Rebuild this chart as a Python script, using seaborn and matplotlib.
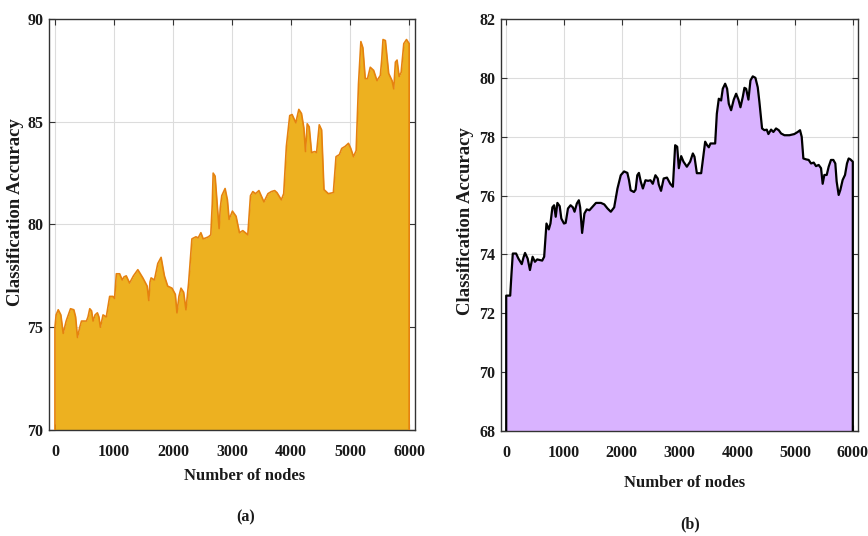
import matplotlib
matplotlib.use("Agg")
import matplotlib.pyplot as plt
import seaborn as sns

# (a) classification accuracy vs. number of nodes
nodes_a = [0, 20, 56, 100, 140, 190, 264, 320, 350, 382, 420, 450, 534, 560, 590, 620,
           646, 680, 719, 745, 770, 815, 870, 927, 983, 1010, 1040, 1096, 1140, 1170,
           1208, 1264, 1330, 1404, 1489, 1562, 1590, 1610, 1629, 1685, 1742, 1798, 1854,
           1910, 1983, 2039, 2067, 2100, 2135, 2180, 2219, 2264, 2320, 2388, 2427, 2472,
           2511, 2560, 2601, 2640, 2665, 2680, 2713, 2753, 2781, 2800, 2826, 2882, 2921,
           2950, 3006, 3068, 3125, 3182, 3267, 3290, 3312, 3352, 3398, 3455, 3540, 3608,
           3665, 3722, 3761, 3835, 3875, 3920, 3977, 4017, 4080, 4131, 4176, 4216, 4244,
           4273, 4307, 4347, 4403, 4432, 4477, 4517, 4557, 4630, 4716, 4761, 4818, 4858,
           4915, 4972, 5011, 5057, 5102, 5142, 5182, 5216, 5256, 5295, 5341, 5398, 5455,
           5511, 5535, 5557, 5597, 5653, 5710, 5739, 5767, 5795, 5830, 5864, 5909, 5955,
           6000]
acc_a = [75.0, 75.6, 75.85, 75.6, 74.7, 75.3, 75.9, 75.85, 75.5, 74.5, 75.0, 75.3, 75.3,
         75.5, 75.9, 75.8, 75.3, 75.6, 75.7, 75.5, 75.0, 75.6, 75.5, 76.5, 76.5, 76.4,
         77.6, 77.6, 77.3, 77.45, 77.5, 77.15, 77.5, 77.8, 77.4, 77.0, 76.3, 77.2, 77.4,
         77.3, 78.1, 78.4, 77.5, 77.0, 76.9, 76.6, 75.7, 76.5, 76.9, 76.7, 75.85, 77.15,
         79.3, 79.4, 79.35, 79.6, 79.3, 79.35, 79.4, 79.5, 81.0, 82.5, 82.35, 80.8, 79.8,
         80.8, 81.4, 81.75, 81.2, 80.25, 80.65, 80.4, 79.6, 79.7, 79.5, 80.5, 81.4, 81.6,
         81.5, 81.65, 81.1, 81.5, 81.6, 81.65, 81.55, 81.2, 81.5, 83.8, 85.3, 85.35,
         84.95, 85.6, 85.4, 84.7, 83.55, 84.9, 84.75, 83.5, 83.55, 83.5, 84.85, 84.6,
         81.7, 81.5, 81.55, 83.3, 83.4, 83.7, 83.8, 83.95, 83.7, 83.3, 83.6, 86.85, 88.9,
         88.6, 87.1, 87.1, 87.65, 87.5, 87.0, 87.25, 88.0, 89.0, 88.95, 87.35, 87.0, 86.6,
         87.9, 88.0, 87.2, 87.4, 88.8, 89.0, 88.8]

# (b) classification accuracy vs. number of nodes
nodes_b = [0, 69, 90, 114, 171, 211, 269, 300, 326, 371, 411, 457, 497, 537, 623, 657,
           697, 737, 766, 800, 829, 857, 886, 926, 954, 1000, 1029, 1069, 1114, 1154,
           1183, 1223, 1257, 1280, 1314, 1354, 1394, 1440, 1486, 1554, 1640, 1697, 1754,
           1811, 1869, 1926, 1983, 2040, 2097, 2126, 2154, 2211, 2240, 2269, 2297, 2331,
           2366, 2411, 2457, 2497, 2537, 2583, 2623, 2640, 2680, 2726, 2783, 2840, 2885,
           2925, 2960, 2988, 3029, 3069, 3127, 3184, 3231, 3259, 3300, 3375, 3403, 3444,
           3478, 3507, 3536, 3617, 3646, 3680, 3720, 3749, 3790, 3824, 3853, 3893, 3939,
           3980, 4020, 4055, 4095, 4124, 4153, 4193, 4228, 4268, 4314, 4354, 4383, 4429,
           4470, 4510, 4539, 4585, 4625, 4671, 4718, 4758, 4816, 4902, 4988, 5046, 5086,
           5115, 5144, 5190, 5236, 5277, 5323, 5363, 5409, 5450, 5478, 5507, 5548, 5582,
           5622, 5663, 5697, 5720, 5755, 5784, 5824, 5865, 5899, 5928, 5957, 6000]
acc_b = [72.6, 72.6, 73.3, 74.03, 74.03, 73.86, 73.67, 73.9, 74.05, 73.86, 73.47, 73.92,
         73.75, 73.83, 73.79, 73.92, 75.05, 74.85, 75.05, 75.6, 75.67, 75.28, 75.75,
         75.64, 75.22, 75.05, 75.07, 75.56, 75.67, 75.6, 75.45, 75.73, 75.84, 75.6, 74.73,
         75.39, 75.53, 75.5, 75.6, 75.75, 75.75, 75.7, 75.56, 75.45, 75.6, 76.24, 76.69,
         76.82, 76.77, 76.52, 76.18, 76.12, 76.2, 76.69, 76.77, 76.46, 76.24, 76.52, 76.5,
         76.52, 76.4, 76.69, 76.58, 76.38, 76.16, 76.58, 76.61, 76.4, 76.3, 77.71, 77.66,
         76.93, 77.34, 77.15, 76.98, 77.15, 77.43, 77.32, 76.76, 76.76, 77.2, 77.83,
         77.71, 77.64, 77.77, 77.77, 78.78, 79.29, 79.23, 79.63, 79.8, 79.63, 79.12, 78.9,
         79.26, 79.46, 79.26, 79.0, 79.35, 79.66, 79.63, 79.26, 79.91, 80.05, 80.0, 79.68,
         79.18, 78.28, 78.22, 78.24, 78.09, 78.24, 78.16, 78.28, 78.22, 78.11, 78.05,
         78.05, 78.09, 78.16, 78.22, 78.0, 77.26, 77.23, 77.21, 77.09, 77.12, 77.0, 77.04,
         76.93, 76.4, 76.7, 76.7, 76.98, 77.21, 77.21, 77.09, 76.48, 76.02, 76.19, 76.53,
         76.7, 77.09, 77.26, 77.23, 77.15]

x_ticks = [0, 1000, 2000, 3000, 4000, 5000, 6000]
yticks_a = [70, 75, 80, 85, 90]
yticks_b = [68, 70, 72, 74, 76, 78, 80, 82]

sns.set_theme(style="ticks")
plt.rcParams["font.family"] = ["Liberation Serif", "DejaVu Serif"]
plt.rcParams["font.weight"] = "bold"

fig = plt.figure(figsize=(8.68, 5.36), dpi=100)
ax_a = fig.add_axes([0.0565, 0.1978, 0.4217, 0.7668])
ax_b = fig.add_axes([0.5772, 0.1959, 0.4113, 0.7687])


def area_panel(ax, xs, ys, base, top, face, edge, lw, yticks, xlim):
    ax.set_axisbelow(True)
    ax.grid(True, color="#dcdcdc", linewidth=0.8)
    ax.fill_between(xs, ys, base, color=face, linewidth=0, zorder=2)
    outline_x = [xs[0]] + list(xs) + [xs[-1]]
    outline_y = [base] + list(ys) + [base]
    sns.lineplot(x=outline_x, y=outline_y, ax=ax, color=edge, linewidth=lw,
                 sort=False, estimator=None, zorder=3)
    ax.set_xlim(*xlim)
    ax.set_ylim(base, top)
    ax.set_xticks(x_ticks)
    ax.set_yticks(yticks)
    ax.tick_params(direction="in", top=True, right=True, length=4, width=0.8,
                   labelsize=11.5, color="#333333", labelcolor="#1a1a1a")
    ax.tick_params(axis="x", pad=10)
    ax.tick_params(axis="y", pad=4)
    for lab in ax.get_xticklabels() + ax.get_yticklabels():
        lab.set_fontweight("bold")
    for sp in ax.spines.values():
        sp.set_color("#333333")
        sp.set_linewidth(1.0)
        sp.set_visible(True)
    ax.set_xlabel("Number of nodes", fontsize=12, fontweight="bold", color="#1a1a1a")
    ax.set_ylabel("Classification Accuracy", fontsize=13.5, fontweight="bold",
                  color="#1a1a1a")


area_panel(ax_a, nodes_a, acc_a, 70, 90, "#EDB120", "#E5820F", 1.2, yticks_a,
           (-100, 6100))
area_panel(ax_b, nodes_b, acc_b, 68, 82, "#D9B3FF", "#000000", 1.6, yticks_b,
           (-90, 6090))

ax_a.yaxis.set_label_coords(-0.068, 0.53)
ax_a.xaxis.set_label_coords(0.535, -0.092)
ax_b.yaxis.set_label_coords(-0.076, 0.51)
ax_b.xaxis.set_label_coords(0.513, -0.107)

fig.text(246 / 868, 1 - 517 / 536, "(a)", ha="center", va="center",
         fontsize=11.5, fontweight="bold", color="#1a1a1a")
fig.text(690 / 868, 1 - 524 / 536, "(b)", ha="center", va="center",
         fontsize=11.5, fontweight="bold", color="#1a1a1a")

fig.savefig("out.png", dpi=100)
